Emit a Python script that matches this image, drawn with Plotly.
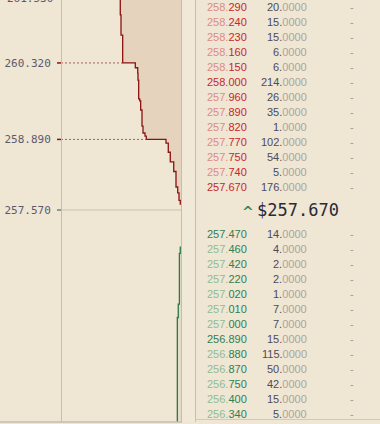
import plotly.graph_objects as go

# ---------------- data ----------------
# order book table
ask_prices = [258.290, 258.240, 258.230, 258.160, 258.150, 258.000, 257.960,
              257.890, 257.820, 257.770, 257.750, 257.740, 257.670]
ask_sizes = [20, 15, 15, 6, 6, 214, 26, 35, 1, 102, 54, 5, 176]
bid_prices = [257.470, 257.460, 257.420, 257.220, 257.020, 257.010, 257.000,
              256.890, 256.880, 256.870, 256.750, 256.400, 256.340]
bid_sizes = [14, 4, 2, 2, 1, 7, 7, 15, 115, 50, 42, 15, 5]
last_price = 257.670

# depth chart (cumulative volume per price level)
ask_depth_price = [257.67, 257.75, 257.89, 258.00, 258.29, 258.47, 258.65, 258.82,
                   258.89, 258.95, 259.01, 259.14, 259.44, 259.61, 259.65, 260.00,
                   260.13, 260.23, 260.32, 260.84, 261.22, 261.80]
ask_depth_cum = [90, 250, 410, 625, 910, 1340, 1590, 1875,
                 4340, 4500, 4750, 4875, 5040, 5160, 5290, 5375,
                 5410, 5710, 7290, 7500, 7590, 7590]
bid_depth_price = [256.89, 256.76, 255.81, 255.56, 253.30]
bid_depth_cum = [90, 200, 340, 460, 460]

mid_price = 257.570
wall_prices = [260.320, 258.890]
wall_cums = [7290, 4340]
top_label_price = 261.530

y_range = [253.606, 261.497]
x_max = 15000

# ---------------- layout constants ----------------
W, H = 380, 424
MB = 2
PH = H - MB
BG = "#efe6d4"
GRID = "#c5bdb0"


def px_x(px):
    return px / W


def px_y(py):
    return 1 - py / PH


def price_to_paper(p):
    return (p - y_range[0]) / (y_range[1] - y_range[0])


fig = go.Figure()

fig.add_trace(go.Scatter(
    x=ask_depth_cum, y=ask_depth_price, mode="lines",
    line=dict(color="#8c1212", width=1.3, shape="vh"),
    fill="tozerox", fillcolor="#e5d3bd", hoverinfo="skip", showlegend=False))
fig.add_trace(go.Scatter(
    x=bid_depth_cum, y=bid_depth_price, mode="lines",
    line=dict(color="#2a7a46", width=1.3, shape="vh"),
    fill="tozerox", fillcolor="#e2dbc5", hoverinfo="skip", showlegend=False))

shapes = []
# dotted wall lines and ticks
for p, c in zip(wall_prices, wall_cums):
    shapes.append(dict(type="line", xref="x", yref="y", x0=x_max, x1=c, y0=p, y1=p,
                       line=dict(color="#a0625a", width=1, dash="2px,2px")))
    shapes.append(dict(type="line", xref="paper", yref="y", x0=px_x(57), x1=px_x(61),
                       y0=p, y1=p, line=dict(color="#8c1212", width=1.5)))
# mid line
shapes.append(dict(type="line", xref="paper", yref="y", x0=px_x(61), x1=px_x(181),
                   y0=mid_price, y1=mid_price, line=dict(color="#dcd3c1", width=2)))
shapes.append(dict(type="line", xref="paper", yref="y", x0=px_x(57), x1=px_x(61),
                   y0=mid_price, y1=mid_price, line=dict(color="#9a958e", width=2)))
# frame lines
shapes.append(dict(type="rect", xref="paper", yref="paper", x0=px_x(182), x1=px_x(195),
                   y0=0, y1=1.01, line=dict(width=0), fillcolor="#f1e9d8", layer="below"))
for xx in [61.5, 181.5, 195.5]:
    shapes.append(dict(type="line", xref="paper", yref="paper", x0=px_x(xx), x1=px_x(xx),
                       y0=0, y1=1.01, line=dict(color=GRID, width=1), layer="above"))
shapes.append(dict(type="line", xref="paper", yref="paper", x0=0, x1=px_x(182),
                   y0=0, y1=0, line=dict(color=GRID, width=1.5), layer="above"))
shapes.append(dict(type="line", xref="paper", yref="paper", x0=px_x(195), x1=1,
                   y0=px_y(419.5), y1=px_y(419.5), line=dict(color="#d2c9b8", width=1), layer="above"))

annotations = []
# top clipped tick label
annotations.append(dict(xref="paper", yref="paper", x=px_x(52.5), y=price_to_paper(top_label_price),
                        text=f"{top_label_price:.3f}", showarrow=False, xanchor="right",
                        yanchor="middle", borderpad=0, borderwidth=0,
                        font=dict(family="DejaVu Sans Mono", size=11, color="#5d5a6d")))

TFONT = "Liberation Sans"


def price_html(p, full, light, dark):
    s = f"{p:.3f}"
    ip, dp = s.split(".")
    if full:
        return f'<span style="color:{dark}">{s}</span>'
    return f'<span style="color:{light}">{ip}.</span><span style="color:{dark}">{dp}</span>'


def size_html(v):
    s = f"{v:.4f}"
    ip, dp = s.split(".")
    return f'<span style="color:#4d4b5c">{ip}.</span><span style="color:#aaa59d">{dp}</span>'


def add_row(py, price_txt, size_txt):
    annotations.append(dict(xref="paper", yref="paper", x=px_x(206.5), y=px_y(py),
                            text=price_txt, showarrow=False, xanchor="left", yanchor="middle",
                            borderpad=0, borderwidth=0, font=dict(family=TFONT, size=11)))
    annotations.append(dict(xref="paper", yref="paper", x=px_x(306.5), y=px_y(py),
                            text=size_txt, showarrow=False, xanchor="right", yanchor="middle",
                            borderpad=0, borderwidth=0, font=dict(family=TFONT, size=11)))
    annotations.append(dict(xref="paper", yref="paper", x=px_x(351.5), y=px_y(py),
                            text="-", showarrow=False, xanchor="center", yanchor="middle",
                            borderpad=0, borderwidth=0,
                            font=dict(family=TFONT, size=11, color="#a09a92")))


n = len(ask_prices)
for i, (p, s) in enumerate(zip(ask_prices, ask_sizes)):
    full = (i == n - 1) or (int(p) != int(ask_prices[i + 1]))
    add_row(7.3 + 15 * i, price_html(p, full, "#e08a86", "#c8262a"), size_html(s))

for i, (p, s) in enumerate(zip(bid_prices, bid_sizes)):
    full = (i == 0) or (int(p) != int(bid_prices[i - 1]))
    add_row(234.3 + 15 * i, price_html(p, full, "#8fbc96", "#2f7f52"), size_html(s))

# last price
annotations.append(dict(xref="paper", yref="paper", x=px_x(257), y=px_y(209.5),
                        text=f"${last_price:.3f}", showarrow=False, xanchor="left",
                        yanchor="middle", borderpad=0, borderwidth=0,
                        font=dict(family="DejaVu Sans Mono", size=17, color="#2b2a38")))
annotations.append(dict(xref="paper", yref="paper", x=px_x(247.5), y=px_y(212),
                        text="<b>^</b>", showarrow=False, xanchor="center",
                        yanchor="middle", borderpad=0, borderwidth=0,
                        font=dict(family="DejaVu Sans", size=14, color="#2e8a5c")))

fig.update_layout(
    width=W, height=H,
    margin=dict(l=0, r=0, t=0, b=MB, pad=0),
    paper_bgcolor=BG, plot_bgcolor=BG,
    showlegend=False,
    shapes=shapes, annotations=annotations,
    xaxis=dict(domain=[px_x(61), px_x(181)], range=[x_max, 0], showgrid=False,
               zeroline=False, showticklabels=False, ticks="", showline=False,
               fixedrange=True),
    yaxis=dict(range=y_range, showgrid=False, zeroline=False, showline=False,
               tickmode="array", tickvals=[260.320, 258.890, mid_price],
               ticktext=["260.320", "258.890", "257.570"],
               ticks="outside", ticklen=4, tickcolor="rgba(0,0,0,0)",
               ticklabelstandoff=3,
               tickfont=dict(family="DejaVu Sans Mono", size=11, color="#5d5a6d"),
               fixedrange=True),
)

fig.write_html("out.html", config={"displayModeBar": False})
